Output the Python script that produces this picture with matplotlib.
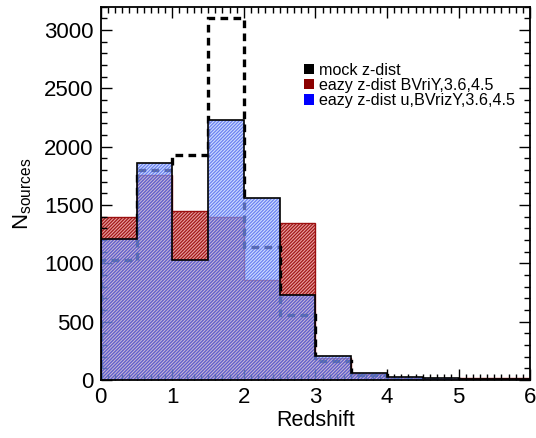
import matplotlib
matplotlib.use("Agg")
import matplotlib.pyplot as plt
import numpy as np
from matplotlib.ticker import MultipleLocator
from matplotlib.patches import Patch

plt.rcParams['font.family'] = ['Liberation Sans', 'DejaVu Sans']
plt.rcParams['hatch.linewidth'] = 0.9

bin_edges = [0.0, 0.5, 1.0, 1.5, 2.0, 2.5, 3.0, 3.5, 4.0, 4.5, 5.0, 5.5, 6.0]
mock_counts = [1030, 1800, 1930, 3100, 1140, 555, 160, 40, 10, 5, 2, 2]
eazy_bvriy = [1400, 1755, 1445, 1400, 860, 1345, 185, 50, 15, 10, 15, 15]
eazy_ubvrizy = [1205, 1865, 1030, 2230, 1560, 725, 205, 60, 22, 14, 5, 5]
legend_labels = ["mock z-dist", "eazy z-dist BVriY,3.6,4.5", "eazy z-dist u,BVrizY,3.6,4.5"]

edges = np.array(bin_edges)
lefts = edges[:-1]
width = np.diff(edges)

fig = plt.figure(figsize=(5.36, 4.38), dpi=100)
ax = fig.add_axes([0.188, 0.1324, 0.801, 0.852])

# red histogram
ax.bar(lefts, eazy_bvriy, width=width, align='edge', facecolor='#eaa0a0',
       edgecolor='#a01818', hatch='//////////', linewidth=0.0, zorder=1)
ax.stairs(eazy_bvriy, edges, color='#9b1010', linewidth=1.0, zorder=1.5)

# mock dashed
ax.stairs(mock_counts, edges, color='black', linewidth=2.4, linestyle=(0, (2.3, 1.6)),
          baseline=0, zorder=2)

# blue histogram
ax.bar(lefts, eazy_ubvrizy, width=width, align='edge', facecolor='#b0caff',
       edgecolor='#3048e8', hatch='//////////', linewidth=0.0, alpha=0.62, zorder=3)
ax.stairs(eazy_ubvrizy, edges, color='black', linewidth=1.2, zorder=4)

ax.set_xlim(0, 6)
ax.set_ylim(0, 3200)
ax.xaxis.set_major_locator(MultipleLocator(1))
ax.xaxis.set_minor_locator(MultipleLocator(0.1))
ax.yaxis.set_major_locator(MultipleLocator(500))
ax.yaxis.set_minor_locator(MultipleLocator(100))
ax.tick_params(which='both', direction='in', top=True, right=True, labelsize=16)
ax.tick_params(which='major', length=8, width=1.0, pad=5)
ax.tick_params(which='minor', length=4, width=1.0)
for s in ax.spines.values():
    s.set_linewidth(1.3)
    s.set_zorder(10)

ax.set_xlabel("Redshift", fontsize=15.5, labelpad=1.5)
ax.set_ylabel(r"N$_{\mathregular{sources}}$", fontsize=16, labelpad=7)

handles = [Patch(facecolor='black'), Patch(facecolor='#8b0000'), Patch(facecolor='#0000ff')]
ax.legend(handles, legend_labels, loc='upper left', bbox_to_anchor=(0.458, 0.868),
          frameon=False, fontsize=11.6, handlelength=0.6, handleheight=0.6,
          handletextpad=0.35, labelspacing=0.02, borderaxespad=0)

fig.savefig("out.png", dpi=100)
